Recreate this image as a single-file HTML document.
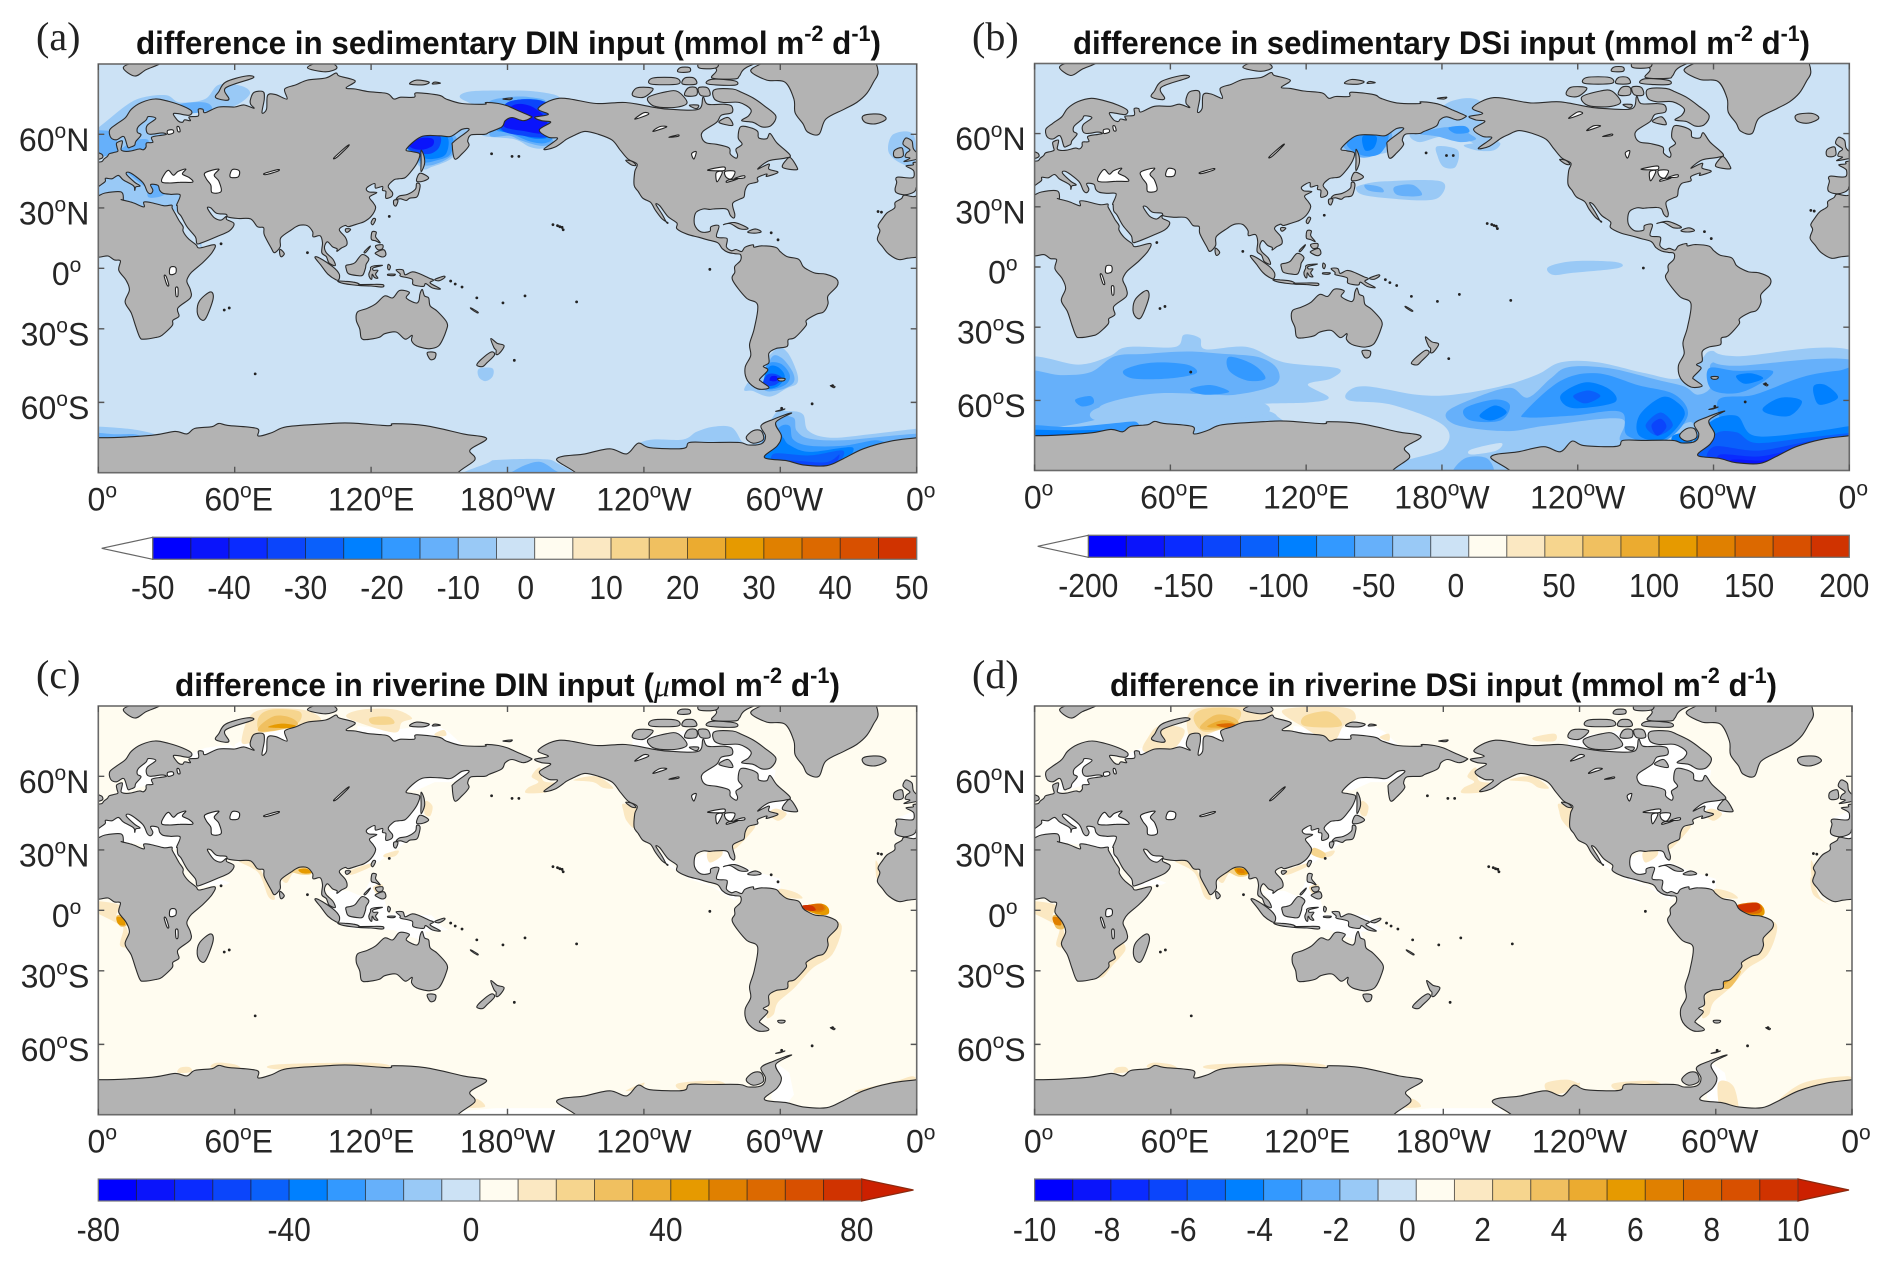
<!DOCTYPE html>
<html lang="en">
<head>
<meta charset="utf-8">
<title>Differences in sedimentary and riverine nutrient input</title>
<style>
html,body{margin:0;padding:0;background:#fff;}
svg{display:block;}
text{font-family:"Liberation Sans",sans-serif;fill:#262626;}
.title{font-weight:bold;font-size:32px;fill:#111;}
.letter{font-family:"Liberation Serif",serif;font-size:40px;fill:#222;}
.tick{font-size:32px;}
.cbtick{font-size:33px;}
</style>
</head>
<body>
<svg id="figure" xmlns="http://www.w3.org/2000/svg" width="1892" height="1261" viewBox="0 0 1892 1261">
<rect width="1892" height="1261" fill="#fff"/>
<text class="letter" x="36" y="50">(a)</text>
<text class="letter" x="972" y="50">(b)</text>
<text class="letter" x="36" y="688">(c)</text>
<text class="letter" x="972" y="688">(d)</text>
<text class="title" x="136" y="54" textLength="745" lengthAdjust="spacingAndGlyphs">difference in sedimentary DIN input (mmol m<tspan dy="-13" font-size="22">-2</tspan><tspan dy="13"> d</tspan><tspan dy="-13" font-size="22">-1</tspan><tspan dy="13">)</tspan></text>
<text class="title" x="1073" y="54" textLength="737" lengthAdjust="spacingAndGlyphs">difference in sedimentary DSi input (mmol m<tspan dy="-13" font-size="22">-2</tspan><tspan dy="13"> d</tspan><tspan dy="-13" font-size="22">-1</tspan><tspan dy="13">)</tspan></text>
<text class="title" x="175" y="696" textLength="665" lengthAdjust="spacingAndGlyphs">difference in riverine DIN input (<tspan font-family="Liberation Serif" font-style="italic" font-weight="normal">μ</tspan>mol m<tspan dy="-13" font-size="22">-2</tspan><tspan dy="13"> d</tspan><tspan dy="-13" font-size="22">-1</tspan><tspan dy="13">)</tspan></text>
<text class="title" x="1110" y="696" textLength="667" lengthAdjust="spacingAndGlyphs">difference in riverine DSi input (mmol m<tspan dy="-13" font-size="22">-2</tspan><tspan dy="13"> d</tspan><tspan dy="-13" font-size="22">-1</tspan><tspan dy="13">)</tspan></text>
</svg>
<script>
// ---------- axis data ----------
const lonTicks = [0, 60, 120, 180, 240, 300, 360];
const lonTickNumbers = ['0', '60', '120', '180', '120', '60', '0'];
const lonTickSuffix = ['', 'E', 'E', 'W', 'W', 'W', ''];
const latTicks = [60, 30, 0, -30, -60];
const latTickNumbers = ['60', '30', '0', '30', '60'];
const latTickSuffix = ['N', 'N', '', 'S', 'S'];
const colorBins = ['#0000ff','#0a14fb','#0a2bff','#0b45fb','#0a60fb','#0080ff','#3399ff','#66b0fa','#99c9f6','#cce2f5',
  '#fffcf0','#fbe8c2','#f6d58e','#f0c060','#ebab30','#e69a00','#e08000','#dc6900','#d85000','#d03300','#cc2000'];
const cbValuesA = [-50,-40,-30,-20,-10,0,10,20,30,40,50];
const cbValuesB = [-200,-150,-100,-50,0,50,100,150,200];
const cbValuesC = [-80,-40,0,40,80];
const cbValuesD = [-10,-8,-6,-4,-2,0,2,4,6,8,10];

// ---------- coastlines (lon, lat pairs) ----------
const eurasia = [-5.6,36,-9,37,-9.5,38.7,-8.8,41.5,-9.2,43,-8,43.7,-1.8,43.4,-1.2,46,-2.2,47,-4.7,48.3,-1.6,48.7,-1.5,49.6,1.5,50,2.5,51,4,52,4.8,53,7,53.5,8.6,54,8.2,55.5,8.1,57,10.5,57.7,10.3,56,10,54.6,11,54,14,54,18,54.8,19.8,54.5,21,55.5,21.2,57,24,57.2,23.5,59,28,59.7,30,60,28,60.5,23,60,21.3,60.8,21.5,63,25.3,65.2,22,65.8,21,64.7,17.5,62.5,17.2,60.7,18.8,59.8,16.5,57.5,16,56.2,14.3,55.5,13,55.4,11.8,58.5,10.7,59.3,8,58.1,5.5,58.9,5,61.5,8,63.4,12,65.5,14.5,68,19,70,25,71,31,70.3,37,69,41,67.5,40,66.2,35,66.7,33,66.6,35,64.5,37,64,38,64.8,40.5,64.5,40,65.7,44,66,44,68,46,68,47,67,53,68.7,60,68.7,64,69.3,68.5,68.3,67,69.5,67,71,68.5,72.8,72.5,73,73,71,72,67,74,68,74.5,72,78,72.2,83,71,82,73.7,87,74.8,92,76,100,76.5,104.5,77.7,106,77,113,75.8,109,74,113,73.7,119,73,127,72.5,130,71,133,71.5,139,71.5,140,72.7,150,72,153,71,160,69.7,170,69.5,170.5,70,176,69.7,180,69,185,67.5,190,66,190.5,65.5,187,64.5,182,65.5,179,64.5,177.5,62.5,172,60.7,170,60,164,59.8,162.5,57.8,163,56,160,53,156.8,51,155.7,56,156.5,57.5,163,61.5,160,61.7,155,59.3,150,59.5,142,59.2,135.5,54.7,138,53.8,141.3,53,140.5,50,138,46.5,135,43.5,132,43,130,42.5,127.5,39.8,129.4,37,129,35.2,126.5,34.5,126.5,37.5,125,38,125,39.7,122,39,121.5,41,118,39,119,37.3,122.5,37,119.3,35,121,32.3,122,30,120,26,117,23.5,113.5,22.2,110,21,108.5,21.6,106,19.5,108.8,15.5,109.3,12,107,10.4,105,8.7,105,10,103,11,100.8,13.5,99.5,11,100.3,8,103.3,4.5,104.2,1.4,101.5,2.8,100.3,6,98.3,8,98.6,13,97.6,16.5,94.5,16,94.3,18.5,92,21.5,89,21.8,87,21,85,19.5,80.3,15.5,80,11,77.5,8,76,10.5,73,17,72.7,20.5,70,21,67,24.8,61.5,25,57,25.7,56.2,27,52,27.5,49.5,30,48,30,50,26.5,51.5,25,54,24.2,56.3,26,56.5,24.5,59.7,22.5,57.7,19,52,16,45,12.8,43.3,12.8,42.7,16,39,21,36.5,26,35,28,34.7,31,34.5,31.5,36,36,32,36.2,28.5,36.7,27,38,26.2,40.2,23,40.5,24,38,23,36.5,21.5,37.5,19.5,41.5,14,45.5,12.3,45,16,41.5,18.4,40,16.5,39.5,16,38,15.5,40,11,42.5,8.8,44.4,6,43,3.2,43.2,3,41.8,0,39.5,-0.5,38,-2,36.8];
const africa = [-5.5,35.8,-1,35.2,3,36.8,10,37.3,11,34,10.2,33.8,15,32.5,20,30.5,20,32.7,23,32.5,29,31,32.3,31.3,32.5,29.9,34,27,35.5,24,37.3,21,37.3,18.8,39.5,15.2,43,12,44.5,10.4,51.2,12,50,8,46,3,41,-2,39.3,-5,39,-7,40.5,-11,40.5,-15,35,-20,35.5,-24,32.8,-26,32.5,-28.5,28,-33,25.5,-34,20,-34.8,18.3,-34,16.5,-29,14.5,-22.5,11.8,-17,13.7,-11,12.2,-6,9,-1,9.7,3.8,7,4.3,4.3,6.3,1,5.8,-4,5.2,-8,4.5,-12.5,7.5,-15,11,-17.3,14.7,-16.2,19,-17,21.5,-15,25,-13,27.7,-9.7,30,-9.5,32.5,-6.7,34.3];
const americas = [-168,65.6,-162,66.5,-166.5,68.3,-157,71.2,-141,69.7,-128,70,-115,68.5,-108,68,-96,68,-94,71.5,-92,69.5,-85,69.5,-81.5,69,-81.3,67,-86,66.2,-88,64,-94,61,-94.5,58.8,-92.5,57,-88,56.5,-82.5,55.2,-82,52.9,-79.5,51.3,-78.8,52.5,-79.5,54.7,-76.8,56.5,-78.5,58.8,-77.5,62.5,-73.5,62.3,-70,61,-69.5,58.8,-66,58.5,-64.5,60.3,-61.5,57,-55.7,52.5,-58,51.3,-65,50.3,-70,47,-65,49,-65,47,-61,45.7,-66,44,-66,45,-70,43.5,-70,41.7,-74,40.6,-75.5,38,-76,35,-78,34,-81,32,-80,27,-80.5,25.2,-82,26.5,-83,29,-85,29.7,-89.5,29.5,-91,29.3,-94,29.5,-97.3,27.5,-97.7,22,-95,18.5,-91,18.7,-90.5,21,-87,21.4,-88,16,-83.5,15.2,-83.7,11,-81.5,9,-79.5,9.6,-77,8.6,-75.5,10.8,-72,12,-71.5,10.8,-68,11.5,-62,10.7,-60,8.5,-57,6,-52,4.7,-50,1,-48,-0.7,-44.5,-2.5,-40,-3,-35.2,-5.5,-35,-9,-39,-14,-39,-18,-41,-22,-44,-23,-48.5,-26,-48.7,-28.5,-53.5,-34,-56.5,-35,-57,-38,-62,-39,-65,-41,-65,-45,-67.5,-46.5,-65.5,-48,-69,-51.5,-68.3,-52.5,-65,-54.8,-70,-55.2,-74.5,-52,-75.5,-47,-73,-42,-73.5,-37,-71.5,-30,-70,-18.5,-75,-15,-81,-6,-80,-2,-80,1,-77.5,4,-77.5,7,-80,7.5,-83,8.2,-85.5,10,-87.5,13,-92,14.5,-96,15.8,-101,17.3,-105.5,20,-105.5,22.8,-109.5,26,-113,31,-114.7,31.7,-112,27,-110,23,-109.5,23,-112,24.8,-115,29,-117,32.5,-120.5,34.5,-122.5,37.5,-124.3,40.3,-124,46,-123,49,-127,51,-130.5,54.5,-134,58,-140,60,-146,61,-151,59.5,-154,58.3,-159,55.5,-164,54.7,-158,58.5,-162,59,-166,61.5,-161,64,-165,64.5];
const antarctica = [0,-71,23.5,-70.3,33.7,-69.2,38.9,-69.9,42.5,-68.3,50,-67.8,53,-66.8,57,-67.4,69.7,-68.3,70.4,-70.5,76.5,-69.5,83,-67.8,101,-66.9,111,-66.7,127.6,-67.5,130,-66.9,144,-67.5,160.5,-69.9,170.8,-71.2,163.5,-74.3,165.7,-76.7,160,-81,209,-81,201.6,-76.6,214,-75.3,225,-74,232.4,-75.3,237.5,-72.5,242.7,-73.7,257.3,-73.9,260,-72.3,269,-72.3,282,-72.3,286,-73,291.8,-72.6,293.5,-70.5,291.5,-67.5,297,-65.5,305,-63.5,298,-66.5,300.5,-70.5,298.5,-73.3,293,-76.2,302.8,-77,310,-78,320.4,-78.2,327.7,-76.5,336.5,-74,348,-72,360,-71,372,-70,378,-78,372,-87,340,-88,260,-88,180,-88,100,-88,20,-88,-12,-87,-18,-78,-12,-70];
const greenland = [-73,78.2,-68,80,-60,82,-30,83.5,-20,81.5,-17,78,-19,75.5,-22,72.5,-26.4,70,-32,68,-40,65,-43,60,-48,60.8,-50,63.5,-53.5,67,-54,71,-58,75.5,-66,76];
const australia = [114,-22,113.5,-26,115,-30,115.7,-34.3,118,-35,123.5,-34,126,-32.3,131,-31.5,135,-34.8,138,-33,137.8,-35.5,140,-37.8,143.5,-38.8,146.3,-39,150,-37.5,153,-31,153.3,-27,149,-21.5,146,-19,145.3,-15,143.5,-14,142.5,-10.8,141.5,-13,141,-16.5,139.5,-17.5,135.5,-15,136.8,-12.2,132.5,-11.3,129.5,-15,126,-14,122,-18,118,-20.3];
const madagascar = [49.3,-12,50.5,-15.5,47.3,-25,45,-25.5,43.5,-22,44.5,-16.5];
const britain = [-5.5,50,1.3,51.2,1.7,52.7,0,53.5,-1.5,55,-2,57.5,-3.5,58.5,-5,58.6,-6,56.5,-3,54.5,-4.5,53.3,-5,51.8,-3,51.3];
const ireland = [-6,52.2,-6,54,-6.5,55.2,-8.3,55,-10,54,-10,52,-8,51.5];
const iceland = [-24,65.5,-22,66.4,-16,66.5,-13.5,65,-18,63.5,-22.5,63.9];
const baffin = [-62,66,-64,63,-68,62.5,-72,64,-77,64.5,-74,66,-73,68,-78,70,-85,70,-89,71,-89,73.5,-81,73.7,-77,72.8,-72,71.3,-67,69];
const victoriaIsland = [-118,71.5,-110,73,-105,73,-101,70,-105,68.7,-113,68.6,-117,69.5];
const banksIsland = [-125,72,-123,74,-116,73.8,-120,71.5];
const ellesmere = [-90,76.5,-80,76.3,-78,77,-75,79,-62,82,-70,83,-85,82.5,-92,81,-88,78.5];
const devonIsland = [-92,75,-80,74.7,-80,75.8,-90,76.2];
const somersetIsland = [-95,72,-91,72,-92,74,-96,74];
const princeOfWales = [-102,72,-97,72,-97,74,-100.5,74];
const kingWilliam = [-100,69.2,-96,69.2,-97,68.2];
const melvilleIsland = [-117,75,-105,75,-106,76.5,-116,76.5];
const bathurstIsland = [-103,75,-97,75,-98,76.5,-102,76.5];
const ringnesIsland = [-105,78,-100,78,-100,79,-104,79];
const axelHeiberg = [-96,79,-88,79,-88,81,-94,81.5];
const southampton = [-87,64,-81,63,-83,65.5];
const newfoundland = [-59,47.7,-53,46.7,-52.8,48,-55.5,51.5,-57.5,50.5];
const vancouverIsland = [-128,50.5,-125,50,-123.5,48.5,-125.5,48.7];
const cuba = [-85,22,-80,23,-74.2,20.2,-77.7,19.9,-82,22.5];
const hispaniola = [-74.4,18.4,-71,19.9,-68.4,18.5,-71.5,17.8];
const svalbard = [11,79,16,77,21,78.5,27,80,17,80.2];
const novayaZemlya = [51.5,71.5,55,70.7,57.5,71,56,74,68,76.5,65,77,56,75.5,53,73];
const severnaya = [92,79,100,78,105,79,100,80.5];
const newSiberian = [137,75,143,74.8,145.5,75.5,140,76];
const newSiberianEast = [147,75,150.5,75.2,148,75.5];
const wrangel = [178,71,182,71.3,181,70.8];
const sakhalin = [142,54.3,143.3,52,143.5,49,142,46,142,50];
const hokkaido = [140,42,141.5,45.3,145.3,43.5,143,42];
const honshu = [131,34,132.5,35.5,136,36.2,139.5,38.5,140,41,141.5,40.5,141,37,140,35,137,34.5,135.5,33.5,133,34.2];
const kyushu = [130,33.5,131.8,33.5,131,31,130,31.5];
const taiwan = [121,25,122,24.5,120.8,22,120,23];
const hainan = [109,20,111,19.7,109.5,18.2,108.7,19];
const sriLanka = [80,9.7,81.8,7.5,80.5,5.9,79.8,7.5];
const luzon = [120.5,18.5,122.3,18.3,122,16,124,13,122,14,120.3,14.5,120,16];
const mindanao = [122,8,125.5,9.5,126.5,7,125,5.8,122.5,7];
const visayas = [122,11.5,125,12,125,10,123,9.5];
const palawan = [117,8.5,119.5,11.3,119.3,10.5,117.5,8];
const borneo = [109,1.5,111,2,113,3,116,7,119,5,117.8,2,117.5,0,116.3,-3.5,114,-3.7,110,-2.7,109,0];
const sumatra = [95.3,5.6,97.5,5.2,103.5,0.5,106,-3,105.8,-5.8,104.5,-5.8,101,-3,98,1.5];
const java = [105.3,-6.5,108.5,-6.6,112,-7,114.5,-7.8,114.5,-8.7,108,-7.8];
const lesserSunda = [115,-8.3,120,-8.2,125,-8.3,125,-9.5,120,-9,115,-8.8];
const sulawesi = [119.8,0.5,121,1.2,125,1.5,121,0.3,121,-1,123,-1,122,-3,123,-5,121.5,-4.7,120.5,-3,120.3,-5.5,119.5,-5,119,-3,119.8,-0.5];
const halmahera = [127.5,2,128.5,1,128,-0.8,127.3,0];
const seram = [127.5,-3,130.5,-3,130,-3.7,127.5,-3.6];
const newGuinea = [131,-0.8,134,-0.8,135,-3.3,138,-1.8,141,-2.6,145.5,-5,147.5,-6,146,-7.5,150.5,-10.5,147,-10,144,-7.8,143,-9.2,138.5,-8.3,138,-5.5,133,-4,132.8,-2.8];
const newBritain = [148,-5.7,152,-4,152.3,-4.8,150,-6.3];
const tasmania = [144.7,-40.7,148.3,-40.8,148,-43.2,146,-43.6];
const newZealandNorth = [172.7,-34.5,175.5,-36.7,178.5,-37.7,176.5,-41,175,-41.5,175,-39.7,174,-38.5];
const newZealandSouth = [172.7,-40.5,174.3,-41.7,171,-45,169,-46.6,166.5,-46,168,-44];
const falklands = [-61,-51.3,-58,-51.3,-58.5,-52.2,-60.5,-52.2];
const southGeorgia = [-38,-54,-36,-54.3,-36.5,-54.8];
const newCaledonia = [164,-20,167,-22,166.5,-22.3,164,-20.5];
const alexanderIsland = [-72,-69,-68.5,-69,-67.5,-71.5,-72,-72.5,-75,-71];
const adelaideBand = [-62,-63,-58,-62.2,-60,-62.8];
const landMasses = [eurasia,africa,americas,antarctica,greenland,australia,madagascar,britain,ireland,iceland,baffin,victoriaIsland,banksIsland,ellesmere,devonIsland,somersetIsland,princeOfWales,kingWilliam,melvilleIsland,bathurstIsland,ringnesIsland,axelHeiberg,southampton,newfoundland,vancouverIsland,cuba,hispaniola,svalbard,novayaZemlya,severnaya,newSiberian,newSiberianEast,wrangel,sakhalin,hokkaido,honshu,kyushu,taiwan,hainan,sriLanka,luzon,mindanao,visayas,palawan,borneo,sumatra,java,lesserSunda,sulawesi,halmahera,seram,newGuinea,newBritain,tasmania,newZealandNorth,newZealandSouth,falklands,southGeorgia,newCaledonia,alexanderIsland,adelaideBand];

const lakes = [
 [28,41.6,31.5,41.2,36,41.5,41.5,41.6,40,43.5,37,45,38.5,47,35,46,33,44.5,30.8,46.5,28.5,44],
 [47,45.5,53,47,51,44.5,53,42,54,37.5,50,37,49.5,40.3,47.5,43],
 [58,43.8,61.5,43.8,62,46.3,59,46.8],
 [30.7,60,33,60.5,32.7,61.5,30.5,61.3],
 [35,61,36,61,35.5,62.5,34.6,62.5],
 [73,45.2,79,46.8,79,46.2,74,44.8],
 [103.7,51.5,105,51.7,110,55.8,109.3,55.8],
 [31.5,-3,34,-2.5,34,0.5,31.7,0.5],
 [29,-4,29.8,-4,31,-8.5,30.2,-8.5],
 [34,-10,35,-10,35,-14,34.2,-14],
 [-92,46.6,-85,47.9,-84.5,46.5,-87,46.3],
 [-87.8,41.7,-85.5,45.8,-88.2,45.5],
 [-84.3,46,-80,46,-81.5,43,-83.8,43.6],
 [-83.5,41.5,-78.8,42.9,-83,42.4],
 [-80,43.2,-76,44.3,-76,43.3],
 [-124,65,-118,66.5,-120,67],
 [-116,61,-110,62.5,-113,62.6],
 [-98,51,-97,53.8,-99,53],
 [-109,59,-105,59.3,-105,59.8]
];
const tinyIslands = [-160,22,-158,21.5,-157,21,-156,20.7,-155.5,19.5,173,53,182,52,185,52,69,-49.5,55.4,-21,57.6,-20,155,-6.5,157,-8,160,-9.5,166.5,-15,178,-17.5,187.7,-14,210.4,-17,183,-44,269,-0.5,323,-54,314,-60.5,300.6,-62,128,26,92,8,54,12.5,-15.5,28,-17,28.3,-61,14.5,-64,18];

// ---------- white (no-data-like) areas behind riverine fields ----------
const riverineWhite = [
 [114,75,130,74,148,75.5,154,73.5,160,70,160,65,114,68],
 [60,70,68,73,80,74,92,74.5,100,75,100,70,60,66],
 [40,64,45,66,60,69,58,70,47,69,40,67],
 [10,54,30,59,26,66,22,66,15,60,10,57],
 [-6,36,36,30,36.5,37,28,41.5,20,46,12,46,5,45,0,42],
 [32,30,36,28,44,12,55,13,50,14,44,15],
 [47,30,57,26,56,24,50,24],
 [117,41,122,42,132,46,141,53,143,49,142.5,43,141,38,136,34,128,28,123,24,118,22,116,25,120,35,118,38],
 [136,55,140,60,150,61,162,63,163,60,155,58,148,58,140,55],
 [100,10,110,10,116,7,120,16,124,14,127.6,-2,146.6,-2.5,151,-8,154,-10,143.7,-11,145,-16,136,-13,130,-10,110,-9,98,1,104,5],
 [-96,65,-85,70,-75,71,-70,66,-62,62,-63,58,-78,50,-92,55,-96,60],
 [-125,72,-112,73,-100,74,-85,74,-78,71,-85,67,-115,66,-125,69],
 [-70,47,-65,51,-56,52,-56,46,-66,44],
 [-98,26,-90,30,-82,30,-80,24,-72,20,-60,16,-60,10,-82,8,-88,15,-98,20],
 [-114,30,-105,20,-95,15,-85,10,-78,7,-80,5,-90,12,-100,16,-110,23],
 [-52,-1,-50,3,-48,1,-48,-2],
 [-62,-66,-56,-69,-54,-75,-58,-78,-64,-76],
 [160,-79,175,-78.3,205,-78.3,210,-81,160,-81],
 [-10,36,-5,36,-5,37,-9,38],[-9,44,-1,47,-1,43],
 [53,16,58,14,56,13,47,13],
 [130,-1,133,-1,135,-4,132,-5]
];

// ---------- shaded contour regions: [colour bin (1-21), [lon,lat,...]] ----------
const fieldSedimentaryDIN = [
 [9,[-6,58,3,64,13,69.5,20,71.5,30,72,36,70,47,71,53,74.8,63,74.5,66.7,72.4,60,69,50,68,40,67,20,65,8,58,-6,54]],
 [8,[36,69.5,47,70,50,68,44,67,37,67]],
 [9,[-4,52,0,52,8,53,12,53,30,59,26,66,18,65,12,60,8,60,-2,60]],
 [8,[-6,60.5,6,61,8,58,9,54.5,3,52,-6,52.5]],
 [7,[1,58,5,58.5,7,56,5,54.5,1,55]],
 [8,[10,54,20,54,22,58,16,58,12,56]],
 [9,[-10.3,60,-1.5,60,-1,49,-7.4,49.5,-12.5,54]],
 [9,[-6,35,36,30,36,37,30,41,20,46,10,46,0,45]],
 [8,[22,35,29,36,28,41,23,41]],
 [8,[12,46,20,40,19,42,14,46]],
 [9,[32,30,36,29,45,11,44,16,38,25]],
 [9,[159.8,71,162.8,73,179,73.3,191.4,73.1,202.4,71.7,200,69,175,68]],
 [8,[171.6,70,181,71.5,190,71.5,197,70.2,190,66,175,65]],
 [9,[168.6,59.8,183,58.3,190,55.5,195.8,55,203,57,200,62,180,64]],
 [8,[172,60,181,59.5,185.5,58,194.3,56,200,57,198,62,198,70,181,70]],
 [7,[175,62,181,60.5,190,57.5,197,57,200,60,197,70,181,70]],
 [6,[176,62,185,60,192,58.5,198,59,199,62,197,70,180,70]],
 [4,[177,62,187,59.5,197,59,199,62,197,70,180,70]],
 [2,[178,63,188,61,196,60.5,197,65,190,69,182,69]],
 [9,[135,56.5,141,60,163.6,61.7,160,56,155,51,147,48,142,47.5]],
 [8,[135,56.5,141,59.5,156,60,157,54,150,49.5,142,49]],
 [7,[135.5,56,141,59.5,155,59.5,155,53,149,50.5,142,50]],
 [6,[135.5,56,141,59.5,153,59.5,153,53,147,51,141,52]],
 [4,[136,55.6,141,59.5,150,59.5,150,55.5,146,53,140,53.5]],
 [2,[137,55.8,141,58.5,147,58.5,147,56,142,54.5]],
 [9,[-62.4,-39.6,-57.2,-40.3,-53,-48,-52.5,-53,-57.2,-55,-64.5,-58,-72,-56,-75.5,-54.5]],
 [8,[-64,-43,-59.4,-43,-54.6,-48.7,-54.3,-53,-60.2,-55.6,-67.5,-55]],
 [7,[-66,-46,-60,-45.3,-55.8,-50,-58,-53.8,-66,-55]],
 [6,[-65.3,-47,-61,-46.8,-58,-50.6,-61.6,-54.5,-67.5,-54.5]],
 [4,[-66,-50,-62.4,-49.5,-59.4,-51.2,-62.4,-53.8,-67.5,-53.8]],
 [2,[-64,-50.5,-61.6,-50.5,-61.6,-52.2,-64.6,-52.2]],
 [9,[167.4,-47.5,173.3,-47.3,173.5,-50.5,170.4,-52.3,167.4,-50.8]],
 [9,[-121.7,-72.5,-115.9,-71.5,-102.7,-71.5,-96.8,-69.3,-89.5,-67.8,-81.4,-68,-77,-72,-74,-74,-120,-74]],
 [9,[-63,-64.5,-56,-63,-50,-64,-47.7,-69,-38,-71,-20.6,-70,-1.5,-68.5,6,-68.2,6,-72,-70,-78]],
 [8,[-62.4,-66,-54.3,-65,-52.8,-69,-47,-71.3,-32.3,-71.7,-12,-70.5,6,-69.8,6,-72,-65,-78]],
 [7,[-61.6,-68.8,-56,-67.5,-54.3,-71.5,-47,-73.2,-32.3,-73.2,-17.6,-71.7,-17,-74,-70,-78]],
 [6,[-61,-70.3,-58.7,-71,-56,-73,-47,-74.8,-28,-73.7,-38,-78.5,-70,-78]],
 [5,[-63,-75.3,-47,-75.7,-32.3,-74.5,-38,-78.5,-60,-79]],
 [4,[-56,-77,-40,-77.4,-34,-75.5,-38,-78.5,-52,-79]],
 [9,[-6,-68,13,-68.4,25,-70,25,-71,-6,-72]],
 [8,[-6,-69.5,7,-70,16,-70,17,-71,-6,-72]],
 [9,[171.5,-77.5,176,-76.8,195,-76.6,201.6,-77.5,207.5,-81,160,-81]],
 [8,[182.5,-79.5,188,-78,194.3,-77.3,200,-79,204,-81,178,-81]]
];
const fieldSedimentaryDSi = [
 [9,[4,56,5,55,3,54,3,56]],
 [9,[135,55.5,142,60,163,62,160.7,55.5,155,53,144.7,51.5,142,52.5]],
 [8,[136,56,142,60,157,60.5,156,56,150,52,143,51.5]],
 [7,[138,56,143,60,156,60.5,153,53,145,52]],
 [6,[145,59,151,59,150,55,146,54]],
 [9,[166,60,178,63,181,69,190,71,197,70,197,65,200,62,205,57,198,55,190,58,180,59,170,57]],
 [8,[170,60,180,62,188,62,192,60,195,58,188,57,178,59]],
 [7,[183,62,190,62.5,192,60.5,186,60]],
 [9,[178,55.5,187,54,186,47.5,180.7,47.5,178,52]],
 [9,[190,56,205,57,203,54,195,54]],
 [9,[144.7,40,155,41.5,179.3,41.5,179.3,35,171,33,147.4,35,142,38]],
 [8,[146,40,152.7,39,154,36.7,147.4,37.5]],
 [8,[159,39,167,40,171,35.3,160.7,35.3]],
 [9,[227,0,238,3,257,2.5,258,-0.5,238,-3,229,-4]],
 [9,[-6,-45,19.5,-46.5,33,-43,41,-39,62,-39,66,-33.5,73,-35,75.5,-40,94,-39,110,-45.5,134,-48,131,-52,120.7,-54.3,130,-59,120.7,-60.7,96.7,-61.5,107,-65,107,-72,-6,-72]],
 [8,[-6,-50,11.5,-50.7,24.8,-49.5,35.4,-43,48.8,-42,67.4,-41,83.4,-42,99.4,-43.5,107.4,-48.5,106,-54.5,88.7,-58,72.7,-57.7,51.4,-57.7,30,-61.5,26,-66.5,-6,-68]],
 [9,[27.4,-62.7,51.4,-59.5,96.7,-60,99.4,-65,51.4,-66.5,27.4,-66.5]],
 [7,[39.4,-48.8,51.4,-45.7,67.4,-46.5,71.4,-50,59.4,-52,43.4,-52]],
 [7,[86,-43.3,96.7,-46.5,102,-52,94,-52.8,86,-49]],
 [7,[68.7,-56,78,-54.5,86,-57,75.4,-58]],
 [7,[18,-59.7,24.8,-58.5,26,-61,20.8,-62]],
 [7,[-6,-58.5,5.6,-60.5,-6,-62.5]],
 [7,[-6,-68,15,-68.5,33,-67.5,45,-67,40,-70,-6,-72]],
 [6,[-6,-69.5,15,-69.5,30,-69.5,30,-71,-6,-72]],
 [5,[-6,-71,25,-70.5,25,-71,-6,-72]],
 [9,[139,-56.5,147,-55,169,-58,185,-58,206,-55,222,-50.5,232.6,-45.5,248.6,-45.5,270,-50,284.6,-52,294,-45,299,-40.7,310,-43,366,-43,366,-81,160.7,-81,180.7,-74.5,180.7,-68,158,-61.5,139,-60]],
 [10,[193,-74.7,206,-73,204,-75,193,-76]],
 [8,[185,-81,190,-77,200,-77,202,-81]],
 [8,[182,-64,195,-59,210,-55.5,218,-59,228,-52,236,-47.5,254,-48,275,-52.5,287,-55,293,-58,299,-55,299,-46,310,-47,366,-46,366,-72,315,-76,295,-75,290,-67,274,-73,259,-72.5,259,-66,227,-68,208.6,-69.7,187,-68]],
 [7,[190,-62.7,203,-59.7,210,-61.5,206,-66.5,192.6,-66.5]],
 [7,[216.6,-63.8,232.6,-52.8,248.6,-50,267,-54.6,283,-58,288.6,-65,278,-72.5,262,-71,259,-63.8,238,-65,218,-65.6]],
 [7,[298,-48,310,-49,326,-49,320.5,-54,310,-57.5,299,-56]],
 [7,[302,-60,318,-58,339,-51.5,355,-49,366,-49,366,-72,318,-72.5,307,-71]],
 [6,[232.6,-58,243.3,-53.5,254,-56,256.6,-60.5,243.3,-62.5,235.3,-62]],
 [6,[267.2,-65,276.6,-59,283.2,-60.2,287.2,-65,278,-72,267.2,-71]],
 [6,[310,-51,316.5,-50,321.9,-52,313.9,-54]],
 [6,[321.9,-62.5,329.9,-59,339,-60.2,333.9,-65,324.5,-64.5]],
 [6,[344.5,-54.6,349.8,-54.6,355,-59,347.2,-61.5,344.5,-58.5]],
 [6,[196.6,-65,203.3,-61.7,208.6,-64,202,-66.5]],
 [5,[238,-58.5,244.6,-56.5,250,-58.5,243.3,-61]],
 [5,[270,-68,276.6,-64,282,-68,275.2,-71]],
 [4,[272.6,-68,276.6,-66,279.2,-68.5,275.2,-71]],
 [6,[297,-68,310,-65,318,-71,342,-70,366,-68,366,-72,290,-80]],
 [5,[300,-71,310,-70,319,-73,342,-71.5,366,-70,366,-72,295,-80]],
 [4,[300,-74,320,-75,345,-72.5,330,-78,300,-79]],
 [3,[303,-76,320,-76.5,335,-75,325,-78.5,305,-78.5]],
 [2,[308,-77.3,322,-77.5,328,-76.5,322,-79,310,-79]],
 [6,[282,-71,291,-70,290,-73,283,-74]]
];
const fieldRiverineShared = [
 [12,[80.6,16,82,19,90,21,93.8,18.5,86.5,19.5,83,14]],
 [12,[62,24.5,69,24,73,17,77.7,6.5,74.8,7,70.4,19]],
 [12,[110.7,20,121,24,120,22,111.4,18]],
 [12,[126,28,132,29.7,130.5,27,126,26.5]],
 [12,[144,51,147,49,146,45,143.5,46]],
 [12,[121,12,125,13,124,7,122,9]],
 [12,[-6,5,8.8,3,8,-3,12.5,-9,13.2,-18,9.5,-17.5,11,-9,7.3,-6,-6,2]],
 [12,[190.6,60,194.3,63,195.8,58.5,202.3,57.5,198,54.5,188.4,54,189,56,193.6,58]],
 [12,[209,58.7,219,60,226.5,56,222,56,217.7,58]],
 [12,[230.9,50,237.5,47.5,236,40,232.4,43,231,47]],
 [12,[302.8,46,299,43,295,46,298,48]],
 [12,[288.8,40,280.8,31,279.5,32,286,40]],
 [12,[-92,29,-86,30,-86,27,-91,24]],
 [12,[299.8,11,307,9,309.4,6,299.8,7.5]],
 [13,[301,7.5,308.6,3.5,307,4,300,6.5]],
 [12,[327,-8,323,-22,314,-29,306,-38,299,-44,297,-49,294,-49,300,-30,320,-8]],
 [12,[36,-67.5,40,-67.3,41,-68.7,35,-69]],
 [12,[52,-66,60,-66.5,62,-67.8,50,-67.5]],
 [12,[79,-66.5,120,-66,125,-67.6,80,-68]],
 [12,[333,-74,350,-71.5,358,-70,358,-71.5,340,-74]],
 [12,[232,-74,240,-71.8,238,-73.5]],
 [12,[255,-72,272,-71.3,275,-73,258,-74]],
 [12,[160,-78,166,-76,170,-78]],
 [12,[-18,25,-16,20,-16.5,16,-17.8,17]]
];
const fieldRiverineDIN = [
 [12,[63,71,69,78.5,89.5,79,98,76.5,86.5,75,72,73,67.5,70.6]],
 [13,[70.4,77,76,79,88.7,78.5,86.5,75.2,72,73.5]],
 [14,[71,75,77.7,77.5,85,77,87,75,72,73.5]],
 [16,[74.8,74.7,80,75.6,86.5,75.2,85,74.5]],
 [12,[109,77.5,116,79,130.5,79,138,77,133.5,75.9,130.5,73.3,116,75.6]],
 [13,[119.5,77,127.6,77.3,130,75.6,121,75.4]],
 [12,[148,73,152,74,153,72.5,149,72.3]],
 [13,[84,20,91,22,93.8,18.5,90,18,86,19]],
 [16,[88,20.5,91.6,21,93.8,19,90,18.7]],
 [14,[8,-3,11,-3,12.5,-7.5,9.5,-8]],
 [16,[8,-3.5,11,-4,11.7,-7.5,8.8,-7]],
 [16,[309.4,2,317.4,3.5,321,1.5,321,-2,316,-2,310,0.8]],
 [17,[309.4,2,317.4,3.5,320,1,317,-1,310,0.8]],
 [18,[313.8,2.8,318,3,319,0.5,315,0]],
 [20,[309.8,2.5,313.8,2.5,315.6,0.2,313,-0.3,310,1]]
];
const fieldRiverineDSi = [
 [12,[48,68,50,72,55,75,66,74,60,68]],
 [12,[68.5,71.5,70,79,99,79.5,104,77.5,85.7,75,75,72.5]],
 [13,[70,77,75,79.2,90,79,88,75.5,75,73.5]],
 [14,[73,75,80,77.8,88,77,89,75,76,74]],
 [15,[76,74.8,83,76.5,88.5,75.5,85,74.6]],
 [18,[80,75.3,86,75.7,89,75,84,74.6]],
 [12,[109.6,79,136,79.5,141.5,77,136,75,131,71,117.6,75]],
 [13,[119,77.5,129.7,78.5,135,75,119,75]],
 [12,[219.8,72,229,73,229,71,221,71]],
 [12,[152,72,156,73,156,71]],
 [13,[84,20,91,22,94,18,90,17,86,19]],
 [16,[88,21,92,21,94,18.5,90,18]],
 [17,[89,20.5,91.5,20.8,92.5,19,90,19]],
 [12,[37,-17,40,-20,34,-28,30,-33,28,-31]],
 [14,[300.8,-36,311,-30,306,-38]],
 [15,[305,-31.5,310,-30,303,-37,299,-36]],
 [12,[342,17,346,6.5,351,2.5,343,8]],
 [13,[123,31,128,28.5,127,26,122,28]],
 [12,[301,-72,308,-73,310,-81,303,-81]],
 [12,[325,-78,338,-72,358,-70,358,-72,340,-74]],
 [12,[225,-72,235,-71,240,-73,228,-75]],
 [14,[8,-3,11.5,-3,13,-9,9.5,-9]],
 [17,[8,-3.5,11,-4,11.7,-7.5,8.8,-7]],
 [16,[309.4,2.5,317.4,4,321,1.5,321,-2.5,316,-2.5,310,0.5]],
 [18,[310,3,318,4,320.5,1,319,-1.5,314,-1.5,310,0.8]],
 [20,[310,2.6,318,3.8,319.5,1,316,-1,313,-0.8,310,1]]
];

// ---------- panels ----------
const panelConfigs = [
 {id:'a',x0:98.3,x1:916.7,y0:64,y1:472.7,ocean:10,white:false,fields:fieldSedimentaryDIN,cb:cbValuesA,cbX0:152.7,cbX1:916.7,cbY:537.3,arrowTip:101.7,arrowBin:0,labelY:599},
 {id:'b',x0:1034.6,x1:1849.3,y0:63.5,y1:470.5,ocean:10,white:false,fields:fieldSedimentaryDSi,cb:cbValuesB,cbX0:1088.3,cbX1:1849.3,cbY:535.3,arrowTip:1037.7,arrowBin:0,labelY:597},
 {id:'c',x0:98.3,x1:916.7,y0:706,y1:1114.7,ocean:11,white:true,fields:fieldRiverineShared.concat(fieldRiverineDIN),cb:cbValuesC,cbX0:98.3,cbX1:861.7,cbY:1179,arrowTip:913.5,arrowBin:21,labelY:1241},
 {id:'d',x0:1034.6,x1:1852,y0:706,y1:1114.7,ocean:11,white:true,fields:fieldRiverineShared.concat(fieldRiverineDSi),cb:cbValuesD,cbX0:1034.6,cbX1:1798,cbY:1179,arrowTip:1849,arrowBin:21,labelY:1241}
];

const NS = 'http://www.w3.org/2000/svg';
const fig = document.getElementById('figure');
function make(tag, attrs, parent){
  const el = document.createElementNS(NS, tag);
  for (const k in attrs) el.setAttribute(k, attrs[k]);
  parent.appendChild(el);
  return el;
}
function miller(lat){ return 1.25*Math.log(Math.tan(Math.PI/4 + 0.4*lat*Math.PI/180)); }
const V_LIMIT = 1.825;
function axisFns(p){
  const sx = (p.x1-p.x0)/360;
  const k = (p.y1-p.y0)/(2*V_LIMIT);
  const eq = (p.y0+p.y1)/2;
  return {X: lon => p.x0 + lon*sx, Y: lat => eq - miller(lat)*k};
}
function polyPoints(arr, ax, off){
  const out = [];
  for (let i=0;i<arr.length;i+=2) out.push(ax.X(arr[i]+off).toFixed(1)+','+ax.Y(arr[i+1]).toFixed(1));
  return out.join(' ');
}
// closed Catmull-Rom curve through every vertex
function smoothPath(arr, ax, off){
  const pts = [];
  for (let i=0;i<arr.length;i+=2) pts.push([ax.X(arr[i]+off), ax.Y(arr[i+1])]);
  const n = pts.length;
  let d = 'M'+pts[0][0].toFixed(1)+' '+pts[0][1].toFixed(1);
  for (let i=0;i<n;i++){
    const p0=pts[(i-1+n)%n], p1=pts[i], p2=pts[(i+1)%n], p3=pts[(i+2)%n];
    const c1x=p1[0]+(p2[0]-p0[0])/6, c1y=p1[1]+(p2[1]-p0[1])/6;
    const c2x=p2[0]-(p3[0]-p1[0])/6, c2y=p2[1]-(p3[1]-p1[1])/6;
    d += 'C'+c1x.toFixed(1)+' '+c1y.toFixed(1)+' '+c2x.toFixed(1)+' '+c2y.toFixed(1)+' '+p2[0].toFixed(1)+' '+p2[1].toFixed(1);
  }
  return d+'Z';
}
function lonRange(arr){
  let lo=1e9, hi=-1e9;
  for (let i=0;i<arr.length;i+=2){ lo=Math.min(lo,arr[i]); hi=Math.max(hi,arr[i]); }
  return [lo,hi];
}
function offsetsFor(arr){
  const r = lonRange(arr);
  return [-360,0,360].filter(o => r[1]+o>=0 && r[0]+o<=360);
}
// contour regions overrun the frame slightly at the date-line seam; skip those sliver copies
function fieldOffsets(arr){
  const r = lonRange(arr);
  return [-360,0,360].filter(o => r[1]+o>8 && r[0]+o<352);
}
function degLabel(parent, x, y, anchor, num, suffix, name){
  const t = make('text',{x:x,y:y,'text-anchor':anchor,'class':'tick'},parent);
  
  
  t.appendChild(document.createTextNode(num));
  const o = make('tspan',{dy:-13,'font-size':21},t);
  o.textContent = 'o';
  const s = make('tspan',{dy:13},t);
  s.textContent = suffix || '\u200b';
}

panelConfigs.forEach(function(p){
  const ax = axisFns(p);
  const g = make('g',{},fig);
  
  
  const clip = make('clipPath',{id:'clip-'+p.id},g);
  make('rect',{x:p.x0,y:p.y0,width:p.x1-p.x0,height:p.y1-p.y0},clip);
  const map = make('g',{'clip-path':'url(#clip-'+p.id+')'},g);
  
  
  const ocean = make('rect',{x:p.x0,y:p.y0,width:p.x1-p.x0,height:p.y1-p.y0,fill:colorBins[p.ocean-1]},map);
  
  
  if (p.white){
    riverineWhite.forEach(function(w){
      offsetsFor(w).forEach(function(o){
        const el = make('polygon',{points:polyPoints(w,ax,o),fill:'#fff'},map);
        
        
      });
    });
  }
  p.fields.forEach(function(f){
    fieldOffsets(f[1]).forEach(function(o){
      const el = make('path',{d:smoothPath(f[1],ax,o),fill:colorBins[f[0]-1]},map);
      
      
    });
  });
  landMasses.forEach(function(l){
    const offs = l===antarctica ? [0] : offsetsFor(l);
    offs.forEach(function(o){
      const el = make('path',{d:smoothPath(l,ax,o),fill:'#b3b3b3',stroke:'#2b2b2b','stroke-width':1.1,'stroke-linejoin':'round'},map);
      
      
    });
  });
  lakes.forEach(function(l){
    offsetsFor(l).forEach(function(o){
      const el = make('path',{d:smoothPath(l,ax,o),fill:'#fff',stroke:'#222','stroke-width':1.1},map);
      
      
    });
  });
  for (let i=0;i<tinyIslands.length;i+=2){
    const lon = (tinyIslands[i]+360)%360;
    const el = make('circle',{cx:ax.X(lon),cy:ax.Y(tinyIslands[i+1]),r:1.4,fill:'#222'},map);
    
    
  }
  // frame + ticks
  const frame = make('rect',{x:p.x0,y:p.y0,width:p.x1-p.x0,height:p.y1-p.y0,fill:'none',stroke:'#6a6a6a','stroke-width':1.6},g);
  
  
  lonTicks.forEach(function(v,i){
    const x = ax.X(v);
    const tk = make('path',{d:'M'+x+' '+p.y0+'v6M'+x+' '+p.y1+'v-6',stroke:'#555','stroke-width':1.4},g);
    
    
    const shift = lonTickNumbers[i].length<3 ? 4 : 0;
    degLabel(g, x+shift, p.y1+38, 'middle', lonTickNumbers[i], lonTickSuffix[i], 'longitude-label');
  });
  latTicks.forEach(function(v,i){
    const y = ax.Y(v);
    const tk = make('path',{d:'M'+p.x0+' '+y+'h6M'+p.x1+' '+y+'h-6',stroke:'#555','stroke-width':1.4},g);
    
    
    const xEnd = p.x0 - (latTickSuffix[i] ? 9 : 17);
    degLabel(g, xEnd, y+16.5, 'end', latTickNumbers[i], latTickSuffix[i], 'latitude-label');
  });
  // colorbar
  const cb = make('g',{},g);
  
  
  const cw = (p.cbX1-p.cbX0)/20, ch = 22;
  colorBins.slice(0,20).forEach(function(c,i){
    const r = make('rect',{x:p.cbX0+i*cw,y:p.cbY,width:cw,height:ch,fill:c,stroke:'rgba(30,30,30,.55)','stroke-width':1},cb);
    
    
  });
  const outline = make('rect',{x:p.cbX0,y:p.cbY,width:p.cbX1-p.cbX0,height:ch,fill:'none',stroke:'#777','stroke-width':1.2},cb);
  
  
  const base = p.arrowBin ? p.cbX1 : p.cbX0;
  const arrow = make('polygon',{points:base+','+p.cbY+' '+p.arrowTip+','+(p.cbY+ch/2)+' '+base+','+(p.cbY+ch),fill:p.arrowBin?colorBins[p.arrowBin-1]:'#fff',stroke:p.arrowBin?'#8a2a10':'#666','stroke-width':1.2},cb);
  
  
  const vMin = p.cb[0], vMax = p.cb[p.cb.length-1];
  const cbX = v => p.cbX0 + (v-vMin)/(vMax-vMin)*(p.cbX1-p.cbX0);
  p.cb.forEach(function(v){
    const shift = v<0 ? (String(v).length===2 ? -4 : 0) : (v===0 ? (p.id==='b'?-13:-9) : (p.id==='d'&&v<10?-10:-5));
    const t = make('text',{transform:'translate('+(cbX(v)+shift)+' '+p.labelY+') scale(0.91 1)','text-anchor':'middle','class':'cbtick'},cb);
    
    
    t.textContent = String(v);
  });
});
</script>
</body>
</html>
